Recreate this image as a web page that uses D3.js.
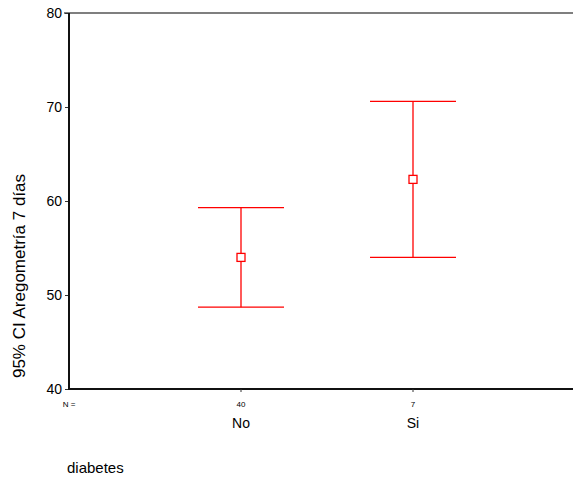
<!DOCTYPE html>
<html>
<head>
<meta charset="UTF-8">
<script src="https://d3js.org/d3.v7.min.js"></script>
<style>
  body { margin: 0; background: #fff; }
  text { font-family: "Liberation Sans", Arial, sans-serif; }
</style>
</head>
<body>
<svg width="573" height="480"></svg>
<script>

// chart values
var categories = ["No", "Si"];
var counts = [40, 7];
var means = [54.0, 62.3];
var lower = [48.7, 54.0];
var upper = [59.3, 70.6];
var yTicks = [40, 50, 60, 70, 80];

var svg = d3.select("svg"),
    margin = {top: 13, left: 69, bottom: 389};

var x = d3.scalePoint()
    .domain(categories)
    .range([margin.left, margin.left + 516])
    .padding(1);

var y = d3.scaleLinear()
    .domain([40, 80])
    .range([margin.bottom, margin.top]);

// top frame line
svg.append("line")
    .attr("x1", 64).attr("x2", 573)
    .attr("y1", y(80)).attr("y2", y(80))
    .attr("stroke", "#555")
    .attr("stroke-width", 1.5);

// y axis
var yAxis = svg.append("g")
    .attr("transform", "translate(" + margin.left + ",0)")
    .call(d3.axisLeft(y).tickValues(yTicks).tickSize(4).tickPadding(3));
yAxis.select(".domain").remove();
yAxis.selectAll("line").attr("stroke", "#333");
yAxis.selectAll("text").attr("font-size", 14).attr("fill", "#000")
    .attr("font-family", "Liberation Sans, Arial, sans-serif");

svg.append("line")
    .attr("x1", margin.left).attr("x2", margin.left)
    .attr("y1", y(80)).attr("y2", y(40))
    .attr("stroke", "#111").attr("stroke-width", 2);

// x axis
svg.append("line")
    .attr("x1", margin.left - 1).attr("x2", 573)
    .attr("y1", y(40)).attr("y2", y(40))
    .attr("stroke", "#111").attr("stroke-width", 2);

svg.selectAll(".xtick")
    .data(categories)
  .enter().append("line")
    .attr("x1", function(d) { return x(d); })
    .attr("x2", function(d) { return x(d); })
    .attr("y1", y(40)).attr("y2", y(40) + 3)
    .attr("stroke", "#333");

svg.append("text")
    .attr("x", margin.left)
    .attr("y", 407)
    .attr("text-anchor", "middle")
    .attr("font-size", 8)
    .text("N =");

svg.selectAll(".ncount")
    .data(categories)
  .enter().append("text")
    .attr("x", function(d) { return x(d); })
    .attr("y", 407)
    .attr("text-anchor", "middle")
    .attr("font-size", 8)
    .text(function(d, i) { return counts[i]; });

svg.selectAll(".xlab")
    .data(categories)
  .enter().append("text")
    .attr("x", function(d) { return x(d); })
    .attr("y", 428)
    .attr("text-anchor", "middle")
    .attr("font-size", 14)
    .text(function(d) { return d; });

svg.append("text")
    .attr("x", 67)
    .attr("y", 473)
    .attr("font-size", 15)
    .text("diabetes");

svg.append("text")
    .attr("transform", "translate(25,276) rotate(-90)")
    .attr("text-anchor", "middle")
    .attr("font-size", 17)
    .text("95% CI Aregometría 7 días");

// error bars
var bars = svg.append("g")
    .attr("stroke", "#ff0000")
    .attr("stroke-width", 1.3)
    .attr("fill", "none")
  .selectAll("g")
    .data(categories)
  .enter().append("g");

bars.append("line")
    .attr("x1", function(d) { return x(d); })
    .attr("x2", function(d) { return x(d); })
    .attr("y1", function(d, i) { return y(upper[i]); })
    .attr("y2", function(d, i) { return y(lower[i]); });

bars.append("line")
    .attr("x1", function(d) { return x(d) - 43; })
    .attr("x2", function(d) { return x(d) + 43; })
    .attr("y1", function(d, i) { return y(upper[i]); })
    .attr("y2", function(d, i) { return y(upper[i]); });

bars.append("line")
    .attr("x1", function(d) { return x(d) - 43; })
    .attr("x2", function(d) { return x(d) + 43; })
    .attr("y1", function(d, i) { return y(lower[i]); })
    .attr("y2", function(d, i) { return y(lower[i]); });

bars.append("rect")
    .attr("x", function(d) { return x(d) - 4; })
    .attr("y", function(d, i) { return y(means[i]) - 4; })
    .attr("width", 8)
    .attr("height", 8)
    .attr("fill", "#fff");

</script>
</body>
</html>
